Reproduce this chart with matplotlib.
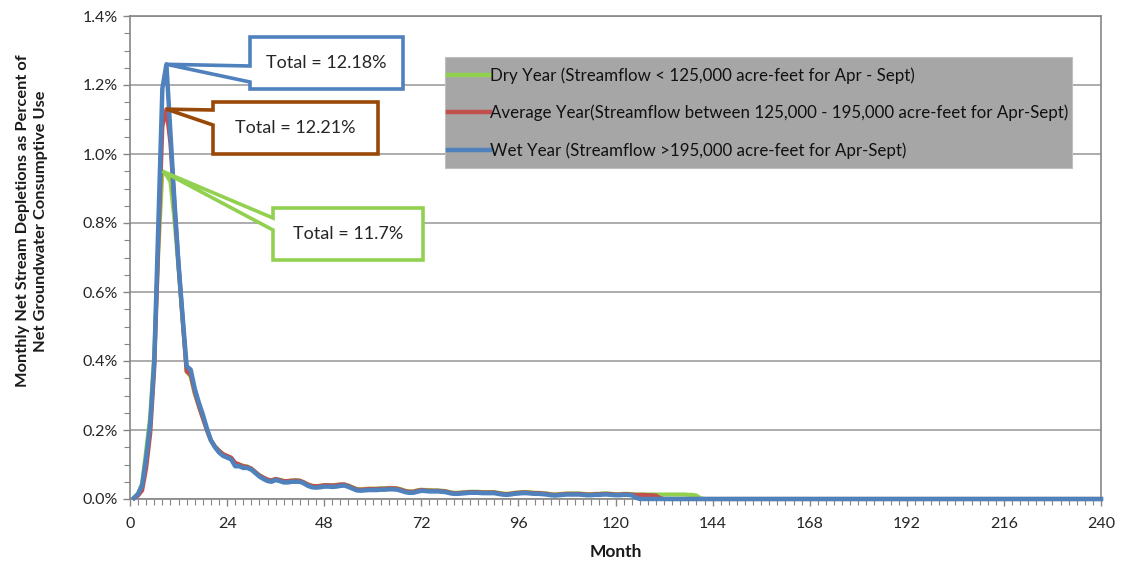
import matplotlib
matplotlib.use('Agg')
import matplotlib.pyplot as plt
from matplotlib.patches import Polygon, Rectangle
from matplotlib.transforms import IdentityTransform
from matplotlib.ticker import MultipleLocator, FuncFormatter
from matplotlib.lines import Line2D

plt.rcParams['font.family'] = ['Lato', 'DejaVu Sans']

# ---------------- data (percent of net groundwater consumptive use) ----------------
dry_vals = [0.004, 0.015, 0.045, 0.14, 0.24, 0.42, 0.72, 0.95, 0.94, 0.92,
            0.81, 0.67, 0.52, 0.37, 0.355, 0.305, 0.27, 0.235, 0.2, 0.17,
            0.152, 0.14, 0.13, 0.124, 0.118, 0.102, 0.1, 0.096, 0.094, 0.088,
            0.078, 0.069, 0.062, 0.056, 0.054, 0.058, 0.056, 0.052, 0.052, 0.054,
            0.054, 0.053, 0.048, 0.042, 0.038, 0.037, 0.038, 0.04, 0.04, 0.04,
            0.041, 0.042, 0.042, 0.039, 0.034, 0.029, 0.028, 0.029, 0.03, 0.03,
            0.03, 0.031, 0.031, 0.032, 0.032, 0.031, 0.028, 0.024, 0.022, 0.022,
            0.025, 0.027, 0.026, 0.026, 0.025, 0.025, 0.024, 0.023, 0.02, 0.018,
            0.018, 0.019, 0.02, 0.021, 0.021, 0.021, 0.02, 0.02, 0.02, 0.02,
            0.018, 0.016, 0.015, 0.016, 0.018, 0.019, 0.02, 0.02, 0.019, 0.018,
            0.018, 0.017, 0.016, 0.014, 0.013, 0.014, 0.015, 0.016, 0.016, 0.016,
            0.016, 0.015, 0.014, 0.014, 0.015, 0.015, 0.016, 0.016, 0.015, 0.014,
            0.014, 0.015, 0.015, 0.014, 0.013, 0.013, 0.013, 0.013, 0.013, 0.013,
            0.013, 0.013, 0.013, 0.013, 0.013, 0.013, 0.013, 0.012, 0.012, 0.01,
            0.002] + [0.0] * 99

avg_vals = [0.002, 0.01, 0.025, 0.09, 0.19, 0.38, 0.74, 1.08, 1.13, 1.03,
            0.85, 0.68, 0.52, 0.37, 0.36, 0.31, 0.27, 0.235, 0.2, 0.17,
            0.152, 0.14, 0.13, 0.125, 0.12, 0.105, 0.1, 0.095, 0.093, 0.088,
            0.078, 0.068, 0.062, 0.056, 0.054, 0.058, 0.055, 0.052, 0.052, 0.053,
            0.054, 0.053, 0.048, 0.042, 0.038, 0.037, 0.038, 0.04, 0.04, 0.039,
            0.04, 0.042, 0.042, 0.038, 0.033, 0.028, 0.027, 0.028, 0.029, 0.029,
            0.029, 0.03, 0.03, 0.031, 0.031, 0.03, 0.027, 0.023, 0.021, 0.021,
            0.024, 0.026, 0.025, 0.024, 0.024, 0.024, 0.023, 0.022, 0.019, 0.017,
            0.017, 0.018, 0.019, 0.02, 0.02, 0.02, 0.019, 0.019, 0.019, 0.019,
            0.017, 0.015, 0.014, 0.015, 0.017, 0.018, 0.019, 0.019, 0.018, 0.017,
            0.017, 0.016, 0.015, 0.013, 0.012, 0.013, 0.014, 0.015, 0.015, 0.015,
            0.015, 0.014, 0.013, 0.013, 0.014, 0.014, 0.015, 0.015, 0.014, 0.013,
            0.013, 0.014, 0.014, 0.013, 0.012, 0.012, 0.012, 0.011, 0.011, 0.01,
            0.003] + [0.0] * 109

wet_vals = [0.003, 0.015, 0.04, 0.12, 0.22, 0.4, 0.8, 1.19, 1.26, 1.06,
            0.86, 0.68, 0.53, 0.385, 0.375, 0.32, 0.28, 0.245, 0.205, 0.17,
            0.15, 0.135, 0.125, 0.12, 0.115, 0.095, 0.095, 0.09, 0.09, 0.085,
            0.075, 0.065, 0.058, 0.052, 0.05, 0.055, 0.052, 0.048, 0.048, 0.05,
            0.05, 0.05, 0.045, 0.038, 0.034, 0.033, 0.034, 0.036, 0.036, 0.035,
            0.036, 0.038, 0.039, 0.035, 0.03, 0.025, 0.024, 0.025, 0.026, 0.026,
            0.026, 0.027, 0.027, 0.028, 0.028, 0.027, 0.024, 0.02, 0.018, 0.018,
            0.021, 0.024, 0.023, 0.022, 0.022, 0.022, 0.021, 0.02, 0.017, 0.015,
            0.015, 0.016, 0.017, 0.018, 0.018, 0.018, 0.017, 0.017, 0.017, 0.017,
            0.015, 0.013, 0.012, 0.013, 0.015, 0.016, 0.017, 0.017, 0.016, 0.015,
            0.015, 0.014, 0.013, 0.011, 0.01, 0.011, 0.012, 0.013, 0.013, 0.013,
            0.013, 0.012, 0.011, 0.011, 0.012, 0.012, 0.013, 0.013, 0.012, 0.011,
            0.011, 0.012, 0.012, 0.011, 0.004] + [0.0] * 115

months = list(range(1, 241))

series_labels = ["Dry Year (Streamflow < 125,000 acre-feet for Apr - Sept)",
                 "Average Year(Streamflow between 125,000 - 195,000 acre-feet for Apr-Sept)",
                 "Wet Year (Streamflow >195,000 acre-feet for Apr-Sept)"]
totals = ["Total = 11.7%", "Total = 12.21%", "Total = 12.18%"]

x_ticks = [0, 24, 48, 72, 96, 120, 144, 168, 192, 216, 240]
y_ticks = [0.0, 0.2, 0.4, 0.6, 0.8, 1.0, 1.2, 1.4]

# ---------------- styling ----------------
green = '#92D050'
red = '#C0504D'
blue = '#4F81BD'
brown = '#984807'
blue_box = '#4F81BD'

W, H = 1126, 561
fig = plt.figure(figsize=(W / 100, H / 100), dpi=100)
ax = fig.add_axes([130 / W, (H - 499) / H, (1101 - 130) / W, (499 - 16) / H])

ax.plot(months, dry_vals, color=green, lw=3, zorder=3, clip_on=False, solid_joinstyle='round')
ax.plot(months, avg_vals, color=red, lw=3, zorder=3.1, clip_on=False, solid_joinstyle='round')
ax.plot(months, wet_vals, color=blue, lw=3.2, zorder=3.2, clip_on=False, solid_joinstyle='round')

ax.set_xlim(x_ticks[0], x_ticks[-1])
ax.set_ylim(y_ticks[0], y_ticks[-1])
ax.set_xticks(x_ticks)
ax.set_yticks(y_ticks)
ax.xaxis.set_minor_locator(MultipleLocator(2))
ax.yaxis.set_minor_locator(MultipleLocator(0.05))
ax.yaxis.set_major_formatter(FuncFormatter(lambda v, p: f"{v:.1f}%"))
ax.grid(axis='y', which='major', color='#A6A6A6', lw=1.3, zorder=0)
for s in ax.spines.values():
    s.set_color('#868686')
    s.set_linewidth(1.2)
ax.tick_params(which='both', direction='out', color='#868686', labelsize=11.5,
               labelcolor='#262626')
ax.tick_params(which='major', length=5, width=1)
ax.tick_params(which='minor', length=4, width=0.8)
ax.tick_params(axis='x', pad=8)
ax.tick_params(axis='y', pad=4)

ax.set_xlabel("Month", fontsize=12.5, fontweight='bold', labelpad=9, color='#1a1a1a')
fig.text(32 / W, 1 - 221 / H,
         "Monthly Net Stream Depletions as Percent of\nNet Groundwater Consumptive Use",
         rotation=90, ha='center', va='center', fontsize=11.8, fontweight='bold',
         linespacing=1.3, color='#1a1a1a')

# ---------------- legend (grey box) ----------------
fig.add_artist(Rectangle((445, H - 168), 627, 111, transform=IdentityTransform(),
                         facecolor='#A6A6A6', edgecolor='#BFBFBF', lw=0.8, zorder=5))
handles = [Line2D([], [], color=c, lw=3.2) for c in (green, red, blue)]
leg = fig.legend(handles, series_labels, loc='upper left',
                 bbox_to_anchor=(448 / W, 1 - 67 / H), frameon=False,
                 fontsize=12.2, handlelength=2.45, handletextpad=0.05,
                 labelspacing=1.24, borderpad=0, borderaxespad=0)
leg.set_zorder(6)
for t in leg.get_texts():
    t.set_color('#111111')

# ---------------- callouts ----------------
fig.canvas.draw()


def callout(xv, yv, box, base, text, color):
    x0, y0, x1, y1 = box
    tx, ty = ax.transData.transform((xv, yv))
    verts = [(x0, H - y0), (x1, H - y0), (x1, H - y1), (x0, H - y1),
             (x0, H - base[1]), (tx, ty), (x0, H - base[0])]
    fig.add_artist(Polygon(verts, closed=True, transform=IdentityTransform(),
                           facecolor='white', edgecolor=color, lw=2.6,
                           joinstyle='miter', zorder=7))
    fig.text((x0 + x1) / 2 / W, 1 - (y0 + y1) / 2 / H, text, ha='center', va='center',
             fontsize=13, color='#262626', zorder=8)


def peak(vals):
    i = max(range(len(vals)), key=lambda k: vals[k])
    return months[i], vals[i]


callout(*peak(wet_vals), (250, 37, 403, 89), (66, 82), totals[2], blue_box)
callout(*peak(avg_vals), (213, 102, 378, 154), (110, 125), totals[1], brown)
callout(*peak(dry_vals), (273, 208, 423, 260), (218, 230), totals[0], green)

fig.savefig('out.png', dpi=100)
